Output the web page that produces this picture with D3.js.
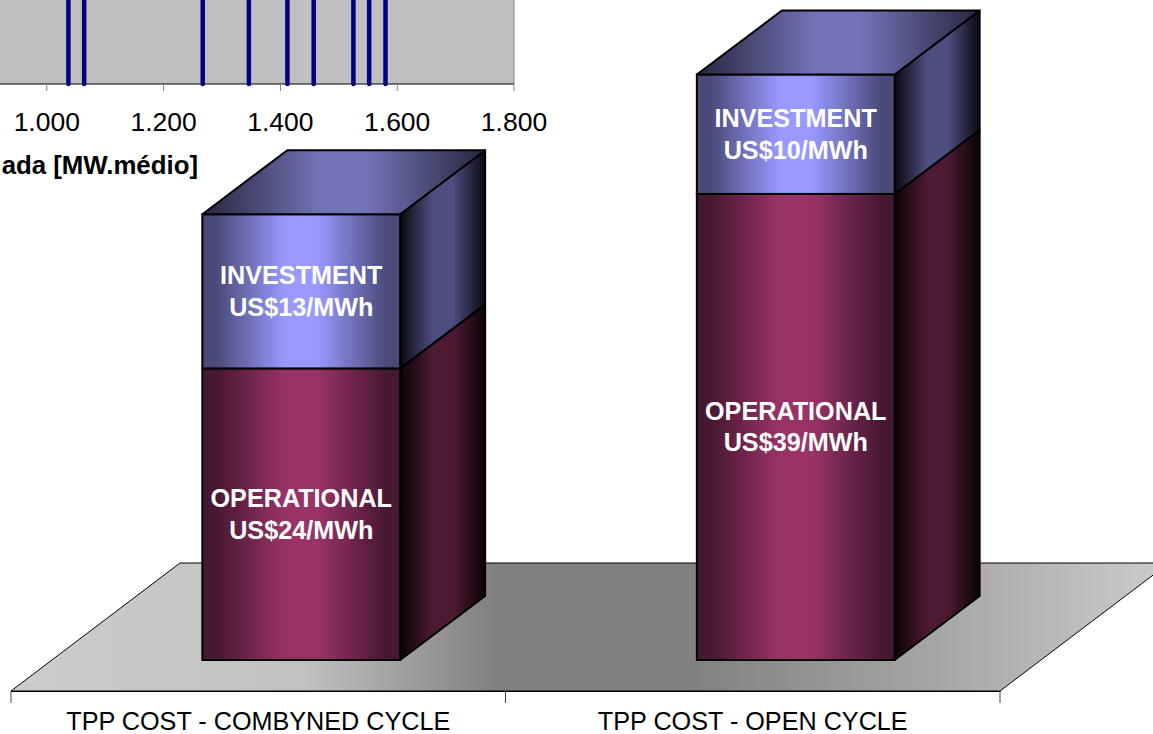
<!DOCTYPE html>
<html>
<head>
<meta charset="utf-8">
<script src="https://cdn.jsdelivr.net/npm/d3@7"></script>
<style>
html,body{margin:0;padding:0;background:#fff;overflow:hidden}
svg{display:block}
text{font-family:"Liberation Sans",Arial,sans-serif}
</style>
</head>
<body>
<svg id="chart" width="1153" height="734"></svg>
<script>
const categories = ["TPP COST - COMBYNED CYCLE", "TPP COST - OPEN CYCLE"];
const operational = [24.4, 39.0];
const investment = [12.9, 10.0];
const operationalLabels = ["US$24/MWh", "US$39/MWh"];
const investmentLabels = ["US$13/MWh", "US$10/MWh"];
const insetTicks = [1000, 1200, 1400, 1600, 1800];
const insetValues = [1037, 1064, 1267, 1346, 1412, 1457, 1525, 1552, 1580];
const insetTitle = "ada [MW.médio]";

const svg = d3.select("#chart");
const defs = svg.append("defs");

function grad(id, stops, units) {
  const g = defs.append("linearGradient").attr("id", id).attr("x1", 0).attr("x2", 1).attr("y1", 0).attr("y2", 0);
  if (units) g.attr("gradientUnits", "userSpaceOnUse").attr("x1", units[0]).attr("x2", units[1]);
  stops.forEach(s => g.append("stop").attr("offset", s[0]).attr("stop-color", s[1]));
}
const sym = (e, c, p, h) => [[0, e], [h, e], [p, c], [1 - p, c], [1 - h, e], [1, e]];

grad("opFront", sym("#471832", "#993366", 0.42, 0.07));
grad("invFront", sym("#4a4a7a", "#9999ff", 0.42, 0.07));
grad("invTop", sym("#2c2c46", "#7373b8", 0.42, 0.03));
grad("invSide", sym("#0d0d16", "#4d4d80", 0.38, 0.02));
grad("opSide", sym("#0d0408", "#4d1a33", 0.38, 0.02));
grad("floor", [[0, "#cccccc"], [0.25, "#c2c2c2"], [0.42, "#808080"], [0.58, "#808080"], [0.8, "#a6a6a6"], [1, "#cccccc"]], [11, 1169]);

// Category axis and floor
const xLeft = 11, xRight = 1000, yFront = 691;
const floorDx = 169, floorDy = 128;
const x = d3.scaleBand().domain(categories).range([xLeft, xRight]).paddingInner(0).paddingOuter(0);
const barW = x.bandwidth() * 0.4;
const depthX = 85, depthY = 64;
const baseShiftX = 43, baseShiftY = 31;
const y = d3.scaleLinear().domain([0, 55]).range([yFront - baseShiftY, yFront - baseShiftY - 55 * 11.95]);

svg.append("polygon")
  .attr("points", [[xLeft, yFront], [xRight, yFront], [xRight + floorDx, yFront - floorDy], [xLeft + floorDx, yFront - floorDy]].join(" "))
  .attr("fill", "url(#floor)").attr("stroke", "#000").attr("stroke-width", 1);

const axisG = svg.append("g").attr("transform", `translate(0,${yFront})`).call(d3.axisBottom(x).tickSize(0).tickPadding(21));
axisG.select(".domain").attr("stroke", "#000").attr("stroke-width", 1);
axisG.selectAll("text").attr("font-size", 25.2).attr("fill", "#000").attr("font-family", '"Liberation Sans",Arial,sans-serif');
svg.append("g").selectAll("line").data([xLeft, (xLeft + xRight) / 2, xRight]).join("line")
  .attr("x1", d => d).attr("x2", d => d).attr("y1", yFront).attr("y2", yFront + 12)
  .attr("stroke", "#444").attr("stroke-width", 1);

// Inset chart, cropped by the top of the picture
const insetX = d3.scaleLinear().domain([1000, 1800]).range([46.8, 514]);
const insetY0 = 84;
svg.append("rect").attr("x", 0).attr("y", 0).attr("width", insetX(1800)).attr("height", insetY0).attr("fill", "#c0c0c0");
svg.append("line").attr("x1", insetX(1800)).attr("x2", insetX(1800)).attr("y1", 0).attr("y2", insetY0).attr("stroke", "#808080").attr("stroke-width", 1);
svg.append("line").attr("x1", 0).attr("x2", insetX(1800)).attr("y1", insetY0).attr("y2", insetY0).attr("stroke", "#000").attr("stroke-width", 1);
svg.append("g").selectAll("line").data(insetTicks).join("line")
  .attr("x1", d => insetX(d)).attr("x2", d => insetX(d)).attr("y1", insetY0).attr("y2", insetY0 + 7)
  .attr("stroke", "#808080").attr("stroke-width", 1);
svg.append("g").selectAll("line").data(insetValues).join("line")
  .attr("x1", d => insetX(d)).attr("x2", d => insetX(d)).attr("y1", -3).attr("y2", insetY0)
  .attr("stroke", "#000080").attr("stroke-width", 4.5).attr("stroke-linecap", "round");
svg.append("g").selectAll("text").data(insetTicks).join("text")
  .attr("x", d => insetX(d)).attr("y", 131).attr("text-anchor", "middle")
  .attr("font-size", 26.5).attr("fill", "#000")
  .text(d => d3.format(".3f")(d / 1000));
svg.append("text").attr("x", 198).attr("y", 174).attr("text-anchor", "end")
  .attr("font-size", 25.8).attr("font-weight", "bold").attr("fill", "#000").text(insetTitle);

// Bars
function box(g, xl, yBot, yTop, frontFill, sideFill) {
  const xr = xl + barW;
  g.append("polygon").attr("points", [[xr, yBot], [xr + depthX, yBot - depthY], [xr + depthX, yTop - depthY], [xr, yTop]].join(" "))
    .attr("fill", sideFill).attr("stroke", "#000").attr("stroke-width", 2).attr("stroke-linejoin", "round");
  g.append("rect").attr("x", xl).attr("y", yTop).attr("width", barW).attr("height", yBot - yTop)
    .attr("fill", frontFill).attr("stroke", "#000").attr("stroke-width", 2);
}
function labels(g, cx, cy, a, b) {
  const t = g.append("g").attr("fill", "#fff").attr("font-size", 25.2).attr("font-weight", "bold").attr("text-anchor", "middle");
  t.append("text").attr("x", cx).attr("y", cy - 7).text(a);
  t.append("text").attr("x", cx).attr("y", cy + 24.5).text(b);
}
categories.forEach((c, i) => {
  const g = svg.append("g");
  const cx = x(c) + x.bandwidth() / 2 + baseShiftX;
  const xl = cx - barW / 2;
  const y0 = y(0), y1 = y(operational[i]), y2 = y(operational[i] + investment[i]);
  box(g, xl, y0, y1, "url(#opFront)", "url(#opSide)");
  box(g, xl, y1, y2, "url(#invFront)", "url(#invSide)");
  g.append("polygon").attr("points", [[xl, y2], [xl + barW, y2], [xl + barW + depthX, y2 - depthY], [xl + depthX, y2 - depthY]].join(" "))
    .attr("fill", "url(#invTop)").attr("stroke", "#000").attr("stroke-width", 2).attr("stroke-linejoin", "round");
  labels(g, cx, (y0 + y1) / 2, "OPERATIONAL", operationalLabels[i]);
  labels(g, cx, (y1 + y2) / 2, "INVESTMENT", investmentLabels[i]);
});
</script>
</body>
</html>
